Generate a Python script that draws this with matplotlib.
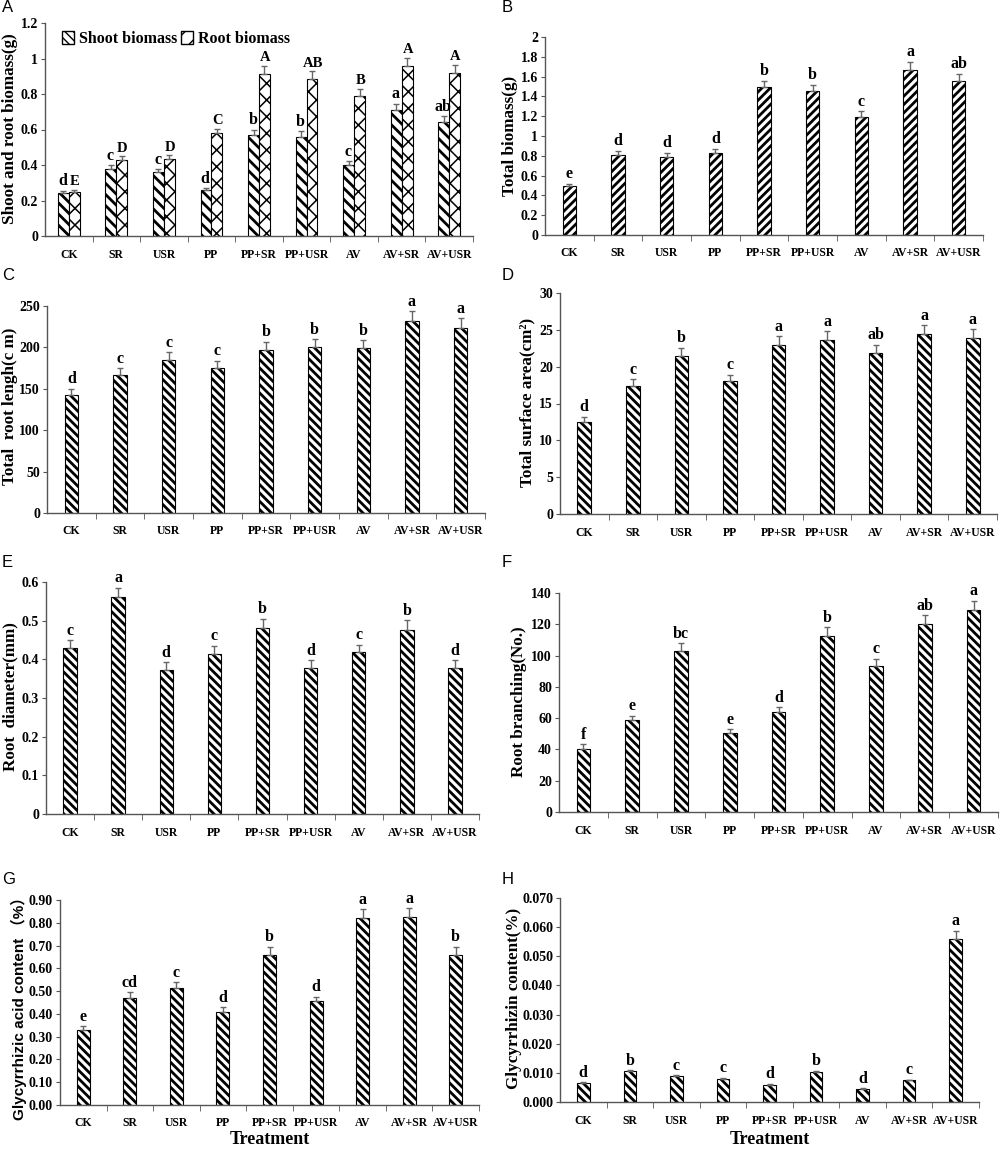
import matplotlib
matplotlib.use("Agg")
import matplotlib.pyplot as plt
import numpy as np
from matplotlib.patches import Patch

categories = ["CK", "SR", "USR", "PP", "PP+SR", "PP+USR", "AV", "AV+SR", "AV+USR"]

# Panel A
shoot = [0.245, 0.38, 0.36, 0.26, 0.57, 0.56, 0.40, 0.71, 0.64]
shoot_err = [0.01, 0.02, 0.015, 0.01, 0.03, 0.03, 0.02, 0.035, 0.035]
shoot_lab = ["d", "c", "c", "d", "b", "b", "c", "a", "ab"]
root = [0.25, 0.43, 0.435, 0.58, 0.915, 0.885, 0.79, 0.955, 0.92]
root_err = [0.01, 0.02, 0.02, 0.025, 0.045, 0.045, 0.04, 0.05, 0.045]
root_lab = ["E", "D", "D", "C", "A", "AB", "B", "A", "A"]

# Panel B
total_biomass = [0.50, 0.81, 0.79, 0.83, 1.49, 1.45, 1.19, 1.67, 1.56]
total_biomass_err = [0.02, 0.04, 0.04, 0.04, 0.07, 0.07, 0.06, 0.08, 0.07]
total_biomass_lab = ["e", "d", "d", "d", "b", "b", "c", "a", "ab"]

# Panel C
root_length = [143, 167, 185, 175, 197, 200, 199, 232, 224]
root_length_err = [7, 8, 9, 9, 10, 10, 10, 12, 11]
root_length_lab = ["d", "c", "c", "c", "b", "b", "b", "a", "a"]

# Panel D
surface = [12.5, 17.4, 21.5, 18.0, 22.9, 23.6, 21.9, 24.4, 23.9]
surface_err = [0.7, 0.9, 1.1, 0.9, 1.2, 1.2, 1.1, 1.2, 1.2]
surface_lab = ["d", "c", "b", "c", "a", "a", "ab", "a", "a"]

# Panel E
diameter = [0.43, 0.56, 0.372, 0.415, 0.48, 0.378, 0.418, 0.477, 0.377]
diameter_err = [0.02, 0.025, 0.02, 0.02, 0.025, 0.02, 0.02, 0.025, 0.02]
diameter_lab = ["c", "a", "d", "c", "b", "d", "c", "b", "d"]

# Panel F
branching = [40, 58.5, 103, 50.5, 64, 112.5, 93.5, 120, 129]
branching_err = [3.5, 3, 5, 2.5, 3, 5.5, 4.5, 6, 6]
branching_lab = ["f", "e", "bc", "e", "d", "b", "c", "ab", "a"]

# Panel G
acid = [0.33, 0.47, 0.515, 0.41, 0.66, 0.455, 0.82, 0.825, 0.66]
acid_err = [0.015, 0.025, 0.025, 0.02, 0.035, 0.02, 0.04, 0.04, 0.035]
acid_lab = ["e", "cd", "c", "d", "b", "d", "a", "a", "b"]

# Panel H
glycyrrhizin = [0.0065, 0.0105, 0.0088, 0.008, 0.006, 0.0103, 0.0045, 0.0074, 0.056]
glycyrrhizin_err = [0.0003, 0.0004, 0.0003, 0.0003, 0.0003, 0.0004, 0.0002, 0.0003, 0.0028]
glycyrrhizin_lab = ["d", "b", "c", "c", "d", "b", "d", "c", "a"]

SERIF = "Liberation Serif"
SANS = "Liberation Sans"
AXCOL = "#555555"
ERRCOL = "#666666"
HATCH_LW = 2.0
H = 1149.0

fig = plt.figure(figsize=(10, 11.49), dpi=100)


def make_ax(left_px, right_px, top_px, bottom_px):
    return fig.add_axes([left_px / 1000, 1 - bottom_px / H,
                         (right_px - left_px) / 1000, (bottom_px - top_px) / H])


def style_ax(ax, ymax, step, fmt, ylabel, label_xy, ylabel_font=None):
    n = len(categories)
    ax.set_xlim(0, n)
    ax.set_ylim(0, ymax)
    for s in ["top", "right"]:
        ax.spines[s].set_visible(False)
    for s in ["left", "bottom"]:
        ax.spines[s].set_color(AXCOL)
        ax.spines[s].set_linewidth(1.0)
    ax.set_xticks(np.arange(n) + 0.5)
    ax.set_xticklabels(categories, fontfamily=SERIF, fontweight="bold", fontsize=8.5)
    ax.set_xticks(np.arange(1, n + 1), minor=True)
    ax.tick_params(axis="x", which="major", length=0, pad=9)
    ax.tick_params(axis="x", which="minor", length=4, direction="out", color=AXCOL)
    ticks = np.arange(0, ymax + step / 2, step)
    ax.set_yticks(ticks)
    ax.set_yticklabels([fmt(t) for t in ticks], fontfamily=SERIF,
                       fontweight="bold", fontsize=10)
    ax.tick_params(axis="y", length=3, direction="out", color=AXCOL, pad=2)
    if ylabel_font is None:
        ax.set_ylabel(ylabel, fontfamily=SERIF, fontweight="bold", fontsize=12.3, va="center")
    else:
        ax.set_ylabel(ylabel, fontfamily=ylabel_font, fontweight="bold", fontsize=11, va="center")
    pos = ax.get_position()
    x_ax = (label_xy[0] / 1000 - pos.x0) / pos.width
    y_ax = ((1 - label_xy[1] / H) - pos.y0) / pos.height
    ax.yaxis.set_label_coords(x_ax, y_ax)


def gfmt(t):
    return ("%g" % round(t, 6))


def bars(ax, xs, vals, errs, labs, width, hatch, fs=11.5):
    with plt.rc_context({"hatch.linewidth": HATCH_LW}):
        ax.bar(xs, vals, width=width, color="white", edgecolor="black",
               hatch=hatch, linewidth=0.8, zorder=2)
    ax.errorbar(xs, vals, yerr=[np.zeros(len(vals)), errs], fmt="none",
                ecolor=ERRCOL, elinewidth=1, capsize=2.5, capthick=1, zorder=3)
    for x, v, e, l in zip(xs, vals, errs, labs):
        ax.annotate(l, (x, v + e), xytext=(0, 1), textcoords="offset points",
                    ha="center", va="bottom", fontfamily=SERIF,
                    fontweight="bold", fontsize=fs)


xc = np.arange(len(categories)) + 0.5

# ---- A
axA = make_ax(45, 473, 23, 236)
style_ax(axA, 1.2, 0.2, gfmt, "Shoot and root biomass(g)", (10, 129))
with plt.rc_context({"hatch.linewidth": HATCH_LW}):
    axA.bar(xc - 0.115, shoot, width=0.23, color="white", edgecolor="black",
            hatch="\\\\\\", linewidth=0.8, zorder=2)
with plt.rc_context({"hatch.linewidth": 1.1}):
    axA.bar(xc + 0.115, root, width=0.23, color="white", edgecolor="black",
            hatch="xx", linewidth=0.8, zorder=2)
axA.errorbar(xc - 0.115, shoot, yerr=[np.zeros(9), shoot_err], fmt="none",
             ecolor=ERRCOL, elinewidth=1, capsize=2.5, zorder=3)
axA.errorbar(xc + 0.115, root, yerr=[np.zeros(9), root_err], fmt="none",
             ecolor=ERRCOL, elinewidth=1, capsize=2.5, zorder=3)
for x, v, e, l in zip(xc - 0.13, shoot, shoot_err, shoot_lab):
    axA.annotate(l, (x, v + e), xytext=(0, 1), textcoords="offset points",
                 ha="center", va="bottom", fontfamily=SERIF, fontweight="bold", fontsize=11.5)
for x, v, e, l in zip(xc + 0.13, root, root_err, root_lab):
    axA.annotate(l, (x, v + e), xytext=(0, 1), textcoords="offset points",
                 ha="center", va="bottom", fontfamily=SERIF, fontweight="bold", fontsize=10.5)
with plt.rc_context({"hatch.linewidth": HATCH_LW}):
    h1 = Patch(facecolor="white", edgecolor="black", hatch="\\\\\\\\", label="Shoot biomass")
with plt.rc_context({"hatch.linewidth": 1.0}):
    h2 = Patch(facecolor="white", edgecolor="black", hatch="//", label="Root biomass")
axA.legend(handles=[h1, h2], loc="upper left", bbox_to_anchor=(0.005, 1.03), ncol=2,
           frameon=False, handlelength=0.8, handleheight=0.8, handletextpad=0.3,
           columnspacing=0.2, prop={"family": SERIF, "weight": "bold", "size": 11.5})

# ---- B
axB = make_ax(545, 983, 37, 235)
style_ax(axB, 2.0, 0.2, gfmt, "Total biomass(g)", (510, 136))
bars(axB, xc, total_biomass, total_biomass_err, total_biomass_lab, 0.28, "////")

# ---- C
axC = make_ax(47, 485, 306, 513)
style_ax(axC, 250, 50, gfmt, "Total  root lengh(c m)", (10, 406))
bars(axC, xc, root_length, root_length_err, root_length_lab, 0.28, "\\\\\\\\")

# ---- D
axD = make_ax(560, 997, 293, 514)
style_ax(axD, 30, 5, gfmt, "Total surface area(cm\u00b2)", (527, 402))
bars(axD, xc, surface, surface_err, surface_lab, 0.28, "\\\\\\\\")

# ---- E
axE = make_ax(46, 479, 582, 814)
style_ax(axE, 0.6, 0.1, gfmt, "Root  diameter(mm)", (10, 697))
bars(axE, xc, diameter, diameter_err, diameter_lab, 0.28, "\\\\\\\\")

# ---- F
axF = make_ax(559, 998, 593, 812)
style_ax(axF, 140, 20, gfmt, "Root branching(No.)", (519, 702))
bars(axF, xc, branching, branching_err, branching_lab, 0.28, "\\\\\\\\")

# ---- G
axG = make_ax(60, 479, 900, 1105)
style_ax(axG, 0.9, 0.1, lambda t: "%.2f" % t, "Glycyrrhizic acid content \uff08%\uff09",
         (19, 1005), ylabel_font=[SANS, "Noto Sans CJK SC"])
bars(axG, xc, acid, acid_err, acid_lab, 0.28, "\\\\\\\\")
axG.set_xlabel("Treatment", fontfamily=SERIF, fontweight="bold", fontsize=13, labelpad=1)

# ---- H
axH = make_ax(560, 979, 898, 1102)
style_ax(axH, 0.07, 0.01, lambda t: "%.3f" % t, "Glycyrrhizin content(%)", (514, 998))
bars(axH, xc, glycyrrhizin, glycyrrhizin_err, glycyrrhizin_lab, 0.27, "\\\\\\\\")
axH.set_xlabel("Treatment", fontfamily=SERIF, fontweight="bold", fontsize=13, labelpad=3)

# panel letters
for letter, (px, py) in {"A": (2, 8), "B": (502, 8), "C": (2, 276), "D": (502, 276),
                         "E": (2, 562), "F": (502, 562), "G": (2, 880), "H": (502, 880)}.items():
    fig.text(px / 1000, 1 - py / H, letter, fontfamily=SANS, fontsize=12,
             ha="left", va="center")

fig.savefig("out.png", dpi=100)
